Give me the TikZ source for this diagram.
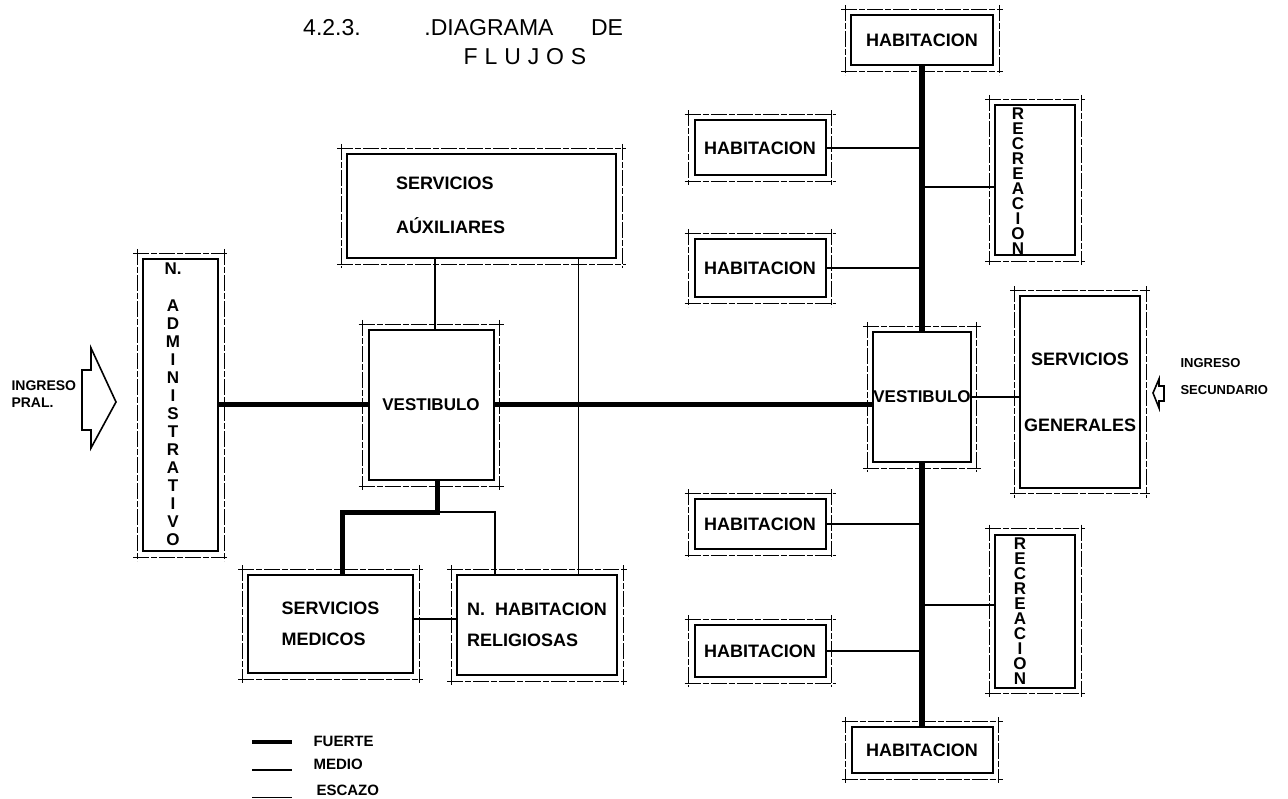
\documentclass[tikz,border=0pt]{standalone}
\usepackage{fontspec}
\setmainfont{Liberation Sans}
\usetikzlibrary{calc, positioning}

\tikzset{
  local/.style={draw, line width=2pt, inner sep=0pt, align=left, font=\fontsize{18}{20}\selectfont\bfseries},
  marco/.style={line width=0.7pt, dash pattern=on 16pt off 2pt on 6pt off 2pt},
  fuerte/.style={line width=5pt},
  medio/.style={line width=1.6pt},
  escazo/.style={line width=1pt},
  flecha/.style={line width=1.6pt, line join=miter},
  rotulo/.style={font=\fontsize{14}{17}\selectfont\bfseries, align=left, anchor=west},
  vertical/.style={font=\fontsize{17}{15}\selectfont\bfseries, align=center, inner sep=0pt},
  titulo/.style={font=\fontsize{23}{26}\selectfont},
}

\begin{document}
\begin{tikzpicture}[x=1pt, y=-1pt]
\useasboundingbox (0,0) rectangle (1288,799);

\node (t1) at (332,28) [titulo] {4.2.3.};
\node (t2) at (489,28) [titulo] {.DIAGRAMA};
\node (t3) at (607,28) [titulo] {DE};
\node (t4) at (525,57) [titulo] {\addfontfeature{LetterSpace=30}FLUJOS};

\node (adm) at (180.5,405) [local, minimum width=75pt, minimum height=292pt] {};
\node (admtxt) at (173,404) [vertical, font=\fontsize{17}{18}\selectfont\bfseries] {N.\\[19pt]A\\D\\M\\I\\N\\I\\S\\T\\R\\A\\T\\I\\V\\O};
\node (aux) at (481.5,206) [local, minimum width=269pt, minimum height=104pt] {};
\node (auxtxt) at (395,205) [local, draw=none, anchor=west, font=\fontsize{18}{44}\selectfont\bfseries] {SERVICIOS\\AÚXILIARES};
\node (vesL) at (431,405) [local, minimum width=125pt, minimum height=150pt, font=\fontsize{17}{20}\selectfont\bfseries] {VESTIBULO};
\node (SM) at (330.5,624) [local, minimum width=165pt, minimum height=98pt, font=\fontsize{18}{31}\selectfont\bfseries] {SERVICIOS\\MEDICOS};
\node (NHR) at (537,625) [local, minimum width=160pt, minimum height=100pt, font=\fontsize{18}{31}\selectfont\bfseries] {N.\ \ HABITACION\\RELIGIOSAS};

\node (habT) at (922,40) [local, minimum width=142pt, minimum height=50pt] {HABITACION};
\node (hab1) at (760,148) [local, minimum width=131pt, minimum height=55pt] {HABITACION};
\node (hab2) at (760,268) [local, minimum width=131pt, minimum height=58pt] {HABITACION};
\node (rec1) at (1035,180) [local, minimum width=80pt, minimum height=150pt] {};
\node (rec1txt) at (1018,181) [vertical] {R\\E\\C\\R\\E\\A\\C\\I\\O\\N};
\node (vesR) at (922,397) [local, minimum width=95pt, minimum height=130pt, font=\fontsize{17}{20}\selectfont\bfseries] {VESTIBULO};
\node (SG) at (1080,392) [local, minimum width=120pt, minimum height=191pt, align=center, font=\fontsize{18}{66}\selectfont\bfseries] {SERVICIOS\\GENERALES};
\node (hab3) at (760,524) [local, minimum width=131pt, minimum height=50pt] {HABITACION};
\node (hab4) at (760,651) [local, minimum width=131pt, minimum height=52pt] {HABITACION};
\node (rec2) at (1035,611) [local, minimum width=80pt, minimum height=153pt] {};
\node (rec2txt) at (1020,611) [vertical] {R\\E\\C\\R\\E\\A\\C\\I\\O\\N};
\node (habB) at (922,750) [local, minimum width=141pt, minimum height=46pt] {HABITACION};

\foreach \n in {adm,aux,vesL,SM,NHR,habT,hab1,hab2,rec1,vesR,SG,hab3,hab4,rec2,habB} {
  \draw[marco] ($(\n.north west)+(-9,-5)$) -- ($(\n.north east)+(9,-5)$)
    ($(\n.south west)+(-9,5)$) -- ($(\n.south east)+(9,5)$)
    ($(\n.north west)+(-5,-9)$) -- ($(\n.south west)+(-5,9)$)
    ($(\n.north east)+(5,-9)$) -- ($(\n.south east)+(5,9)$);
}

\coordinate (jn) at (437,512);
\coordinate (r1) at ([yshift=-7pt]rec1.west);
\coordinate (r2) at ([yshift=6pt]rec2.west);
\coordinate (e1) at ([xshift=41pt]NHR.north);
\coordinate (n1) at ([xshift=-42pt]NHR.north);
\coordinate (s1) at ([xshift=12pt]SM.north);
\coordinate (sm1) at ([yshift=5pt]SM.east);

\draw[fuerte] (adm.east) -- (vesL.west);
\draw[fuerte] (vesL.east) -- (vesL.east -| vesR.west);
\draw[fuerte] (vesL.south -| jn) -- (jn) -| (s1);
\draw[medio] (jn) -| (n1);
\draw[medio] (vesL.north -| 435,0) -- (aux.south -| 435,0);
\draw[escazo] (e1) -- (e1 |- aux.south);
\draw[medio] (sm1) -- (sm1 -| NHR.west);

\draw[line width=6pt] (habT.south) -- (vesR.north);
\draw[line width=6pt] (vesR.south) -- (habB.north);
\draw[medio] (hab1.east) -- (hab1.east -| vesR.north);
\draw[medio] (hab2.east) -- (hab2.east -| vesR.north);
\draw[medio] (hab3.east) -- (hab3.east -| vesR.north);
\draw[medio] (hab4.east) -- (hab4.east -| vesR.north);
\draw[medio] (r1) -- (r1 -| vesR.north);
\draw[medio] (r2) -- (r2 -| vesR.north);
\draw[medio] (vesR.east) -- (vesR.east -| SG.west);

\draw[flecha] (82,370) -- (91,370) -- (91,348) -- (116,402) -- (91,448) -- (91,430) -- (82,430) -- cycle;
\node (ipral) at (8,394) [rotulo] {INGRESO\\PRAL.};
\draw[flecha] (1153,393) -- (1159,379) -- (1159,386) -- (1164,386) -- (1164,401) -- (1159,401) -- (1159,408) -- cycle;
\node (isec) at (1177,377) [rotulo, font=\fontsize{13}{27}\selectfont\bfseries] {INGRESO\\SECUNDARIO};

\draw[line width=4pt] (252,742) -- (292,742);
\draw[medio] (252,770) -- (292,770);
\draw[escazo] (252,797) -- (292,797);
\node (lf) at (310,741) [rotulo, font=\fontsize{15}{17}\selectfont\bfseries] {FUERTE};
\node (lm) at (310,764) [rotulo, font=\fontsize{15}{17}\selectfont\bfseries] {MEDIO};
\node (le) at (313,790) [rotulo, font=\fontsize{15}{17}\selectfont\bfseries] {ESCAZO};
\end{tikzpicture}
\end{document}
